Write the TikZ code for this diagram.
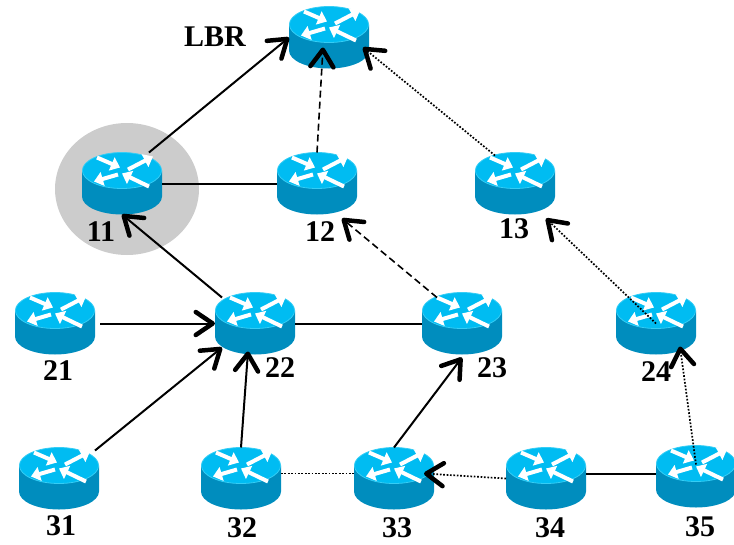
\documentclass[tikz,border=0pt]{standalone}
\usepackage{fontspec}
\setmainfont{Liberation Serif}
\usepackage{tikz}
\usetikzlibrary{arrows.meta}
\definecolor{routertop}{HTML}{00BCF2}
\definecolor{routerside}{HTML}{008DBE}
\definecolor{routerrim}{HTML}{35CDF5}
\definecolor{haloarea}{HTML}{CCCCCC}
\tikzset{
  routerbox/.style={minimum width=80pt, minimum height=62pt, inner sep=0pt, outer sep=0pt,
    path picture={
      \begin{scope}[shift={(path picture bounding box.center)}]
        \fill [routerside] (-40, -13) -- (-40, 13) arc [start angle=180, end angle=0, x radius=40, y radius=18] -- (40, -13) -- cycle;
        \fill [routertop, draw=routerrim, line width=.8pt] (0, -13) ellipse [x radius=39.6, y radius=18];
        \draw [routerwing] (-25, -26) -- (-2, -16);
        \draw [routerwing] (6, -14) -- (31, -27);
        \draw [routerwing] (-4, -9) -- (-28, -2);
        \draw [routerwing] (27, 3) -- (0, -10);
      \end{scope}
    }},
  routerwing/.style={white, line width=4pt, -{Triangle[length=9pt, width=14pt]}},
  tag/.style={font=\bfseries\fontsize{30}{30}\selectfont, inner sep=0pt},
  link/.style={line width=2pt},
  arrowlink/.style={line width=2pt, -{Straight Barb[length=17pt, width=23pt, line width=4.5pt, round]}},
  dashlink/.style={arrowlink, line width=1.6pt, dash pattern=on 7pt off 4pt},
  dotlink/.style={arrowlink, line width=1.7pt, dash pattern=on 1.7pt off 1.7pt},
}
\begin{document}
\begin{tikzpicture}[x=1pt, y=-1pt]
      \useasboundingbox (0, 0) rectangle (734, 544);
      \fill [haloarea] (127, 189) ellipse [x radius=72, y radius=66];
      \node [routerbox] (lbr) at (329, 37.5) {};
      \node [routerbox] (r11) at (122, 183.5) {};
      \node [routerbox] (r12) at (317, 183.5) {};
      \node [routerbox] (r13) at (515, 183.5) {};
      \node [routerbox] (r21) at (55, 323.5) {};
      \node [routerbox] (r22) at (255, 323.5) {};
      \node [routerbox] (r23) at (462, 323.5) {};
      \node [routerbox] (r24) at (656, 323.5) {};
      \node [routerbox] (r31) at (59, 478.5) {};
      \node [routerbox] (r32) at (241, 478.5) {};
      \node [routerbox] (r33) at (394, 478.5) {};
      \node [routerbox] (r34) at (546, 478.5) {};
      \node [routerbox] (r35) at (696, 476.5) {};
      \node [tag] (lbrtag) at (215, 37) {LBR};
      \node [tag] (t11) at (101, 232) {11};
      \node [tag] (t12) at (320, 232) {12};
      \node [tag] (t13) at (514, 229) {13};
      \node [tag] (t21) at (58, 371) {21};
      \node [tag] (t22) at (280, 368) {22};
      \node [tag] (t23) at (492, 368) {23};
      \node [tag] (t24) at (656, 372) {24};
      \node [tag] (t31) at (61, 526) {31};
      \node [tag] (t32) at (242, 528) {32};
      \node [tag] (t33) at (397, 528) {33};
      \node [tag] (t34) at (550, 528) {34};
      \node [tag] (t35) at (700, 527) {35};
      \draw [link] (r11.east) -- (r12.west)
                   (r22.east) -- (r23.west)
                   ([yshift=5pt]r34.east) -- ([yshift=3pt]r35.west);
      \draw [link, line width=1.7pt, dash pattern=on 1.7pt off 1.7pt] ([yshift=5pt]r32.east) -- ([yshift=5pt]r33.west);
      \draw [arrowlink] (r11.49) -- (lbr.west);
      \draw [arrowlink] ([xshift=-33pt, yshift=26pt]r22.center) -- (r11.south);
      \draw [arrowlink, shorten <=5pt] (r21.east) -- (r22.west);
      \draw [arrowlink] ([xshift=36pt, yshift=28pt]r31.center) -- ([xshift=-33pt, yshift=-24pt]r22.center);
      \draw [arrowlink] (r32.north) -- ([xshift=-7pt, yshift=-28pt]r22.center);
      \draw [arrowlink] (r33.north) -- ([yshift=-3pt]r23.south);
      \draw [dashlink] (r12.north) -- ([xshift=-6pt, yshift=-10pt]lbr.center);
      \draw [dashlink] ([xshift=-25pt, yshift=26pt]r23.center) -- ([xshift=25pt, yshift=-35pt]r12.center);
      \draw [dotlink] ([xshift=-20pt, yshift=28pt]r13.center) -- ([xshift=34pt, yshift=-10pt]lbr.center);
      \draw [dotlink] (r24.center) -- ([xshift=31pt, yshift=-35pt]r13.center);
      \draw [dotlink] ([yshift=12pt]r35.center) -- ([xshift=24pt, yshift=-23pt]r24.center);
      \draw [dotlink] (r34.west) -- ([xshift=30pt, yshift=5pt]r33.center);
      \end{tikzpicture}
\end{document}
